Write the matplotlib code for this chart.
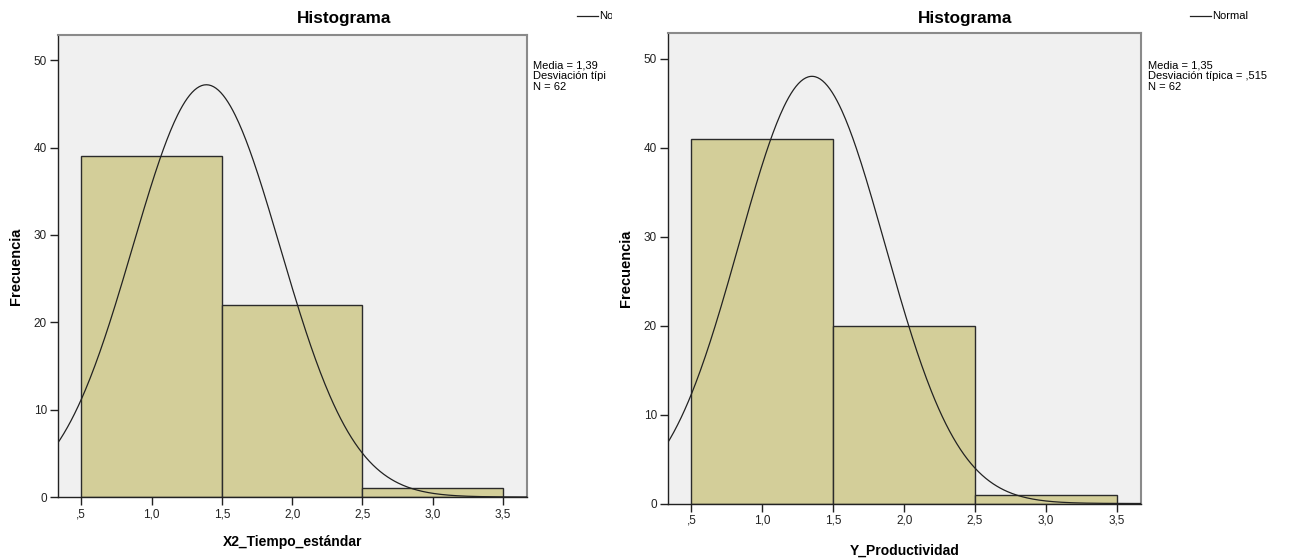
import numpy as np
import matplotlib
matplotlib.use("Agg")
import matplotlib.pyplot as plt
from matplotlib.transforms import Bbox

plt.rcParams['font.family'] = ['Liberation Sans', 'DejaVu Sans']

# ---- data ----
bin_edges = [0.5, 1.5, 2.5, 3.5]
x2_counts = [39, 22, 1]
y_counts = [41, 20, 1]
x2_mean, x2_std, x2_n = 1.39, 0.524, 62
y_mean, y_std, y_n = 1.35, 0.515, 62
xtick_vals = [0.5, 1.0, 1.5, 2.0, 2.5, 3.0, 3.5]
xtick_labels = [",5", "1,0", "1,5", "2,0", "2,5", "3,0", "3,5"]
ytick_vals = [0, 10, 20, 30, 40, 50]
x2_label = "X2_Tiempo_estándar"
y_label = "Y_Productividad"
# left panel is cropped in the reference: the visible text is truncated
x2_stats = ["Media = 1,39", "Desviación típi", "N = 62"]
x2_legend = "No"
y_stats = ["Media = 1,35", "Desviación típica = ,515", "N = 62"]
y_legend = "Normal"

W, H = 1295, 558
fig = plt.figure(figsize=(W / 100, H / 100), dpi=100)

BAR = "#D3CE99"
BG = "#F0F0F0"


def px_ax(x0, x1, ytop, ybot):
    return [x0 / W, 1 - ybot / H, (x1 - x0) / W, (ybot - ytop) / H]


def panel(rect, counts, mean, std, n, xlabel, stats, legend_text, title_x,
          legend_x, stats_x, xlabel_pad, clip_right=None):
    ax = fig.add_axes(rect)
    ax.set_facecolor(BG)
    widths = np.diff(bin_edges)
    ax.bar(bin_edges[:-1], counts, width=widths, align='edge', color=BAR,
           edgecolor="#2b2b2b", linewidth=1.0, zorder=2)
    xs = np.linspace(0.3, 3.7, 400)
    bw = widths[0]
    ys = n * bw / (std * np.sqrt(2 * np.pi)) * np.exp(-0.5 * ((xs - mean) / std) ** 2)
    ax.plot(xs, ys, color="#222222", linewidth=0.9, zorder=3)
    ax.set_xlim(0.335, 3.67)
    ax.set_ylim(0, 52.9)
    ax.set_xticks(xtick_vals)
    ax.set_xticklabels(xtick_labels)
    ax.set_yticks(ytick_vals)
    ax.tick_params(axis='both', direction='out', length=6, width=1.0,
                   color="#222222", labelsize=8.5, labelcolor="#222222", pad=2)
    for s in ['top', 'right']:
        ax.spines[s].set_color("#8a8a8a")
        ax.spines[s].set_linewidth(1.5)
    for s in ['left', 'bottom']:
        ax.spines[s].set_color("#222222")
        ax.spines[s].set_linewidth(1.0)
    ax.set_xlabel(xlabel, fontsize=10, fontweight='bold', labelpad=xlabel_pad)
    ax.set_ylabel("Frecuencia", fontsize=10.5, fontweight='bold', labelpad=8)

    texts = []
    texts.append(fig.text(title_x / W, 1 - 18 / H, "Histograma", fontsize=12.3,
                          fontweight='bold', ha='center', va='center'))
    line = fig.add_artist(plt.Line2D([legend_x / W, (legend_x + 21) / W],
                                     [1 - 16 / H, 1 - 16 / H], color="#222222",
                                     linewidth=0.9))
    texts.append(fig.text((legend_x + 22) / W, 1 - 16 / H, legend_text, fontsize=8,
                          ha='left', va='center'))
    texts.append(fig.text(stats_x / W, 1 - 60 / H, "\n".join(stats), fontsize=8,
                          ha='left', va='top', linespacing=1.15))
    if clip_right is not None:
        bb = Bbox.from_extents(0, 0, clip_right, H)
        for t in texts:
            t.set_clip_box(bb)
            t.set_clip_on(True)
        line.set_clip_box(bb)
        line.set_clip_on(True)
    return ax


panel(px_ax(58, 527, 35, 497), x2_counts, x2_mean, x2_std, x2_n, x2_label,
      x2_stats, x2_legend, 344, 577, 533, 11, clip_right=612)
panel(px_ax(668, 1141, 33, 503.5), y_counts, y_mean, y_std, y_n, y_label,
      y_stats, y_legend, 965, 1190, 1148, 12)

fig.savefig("out.png", dpi=100, facecolor="white")
